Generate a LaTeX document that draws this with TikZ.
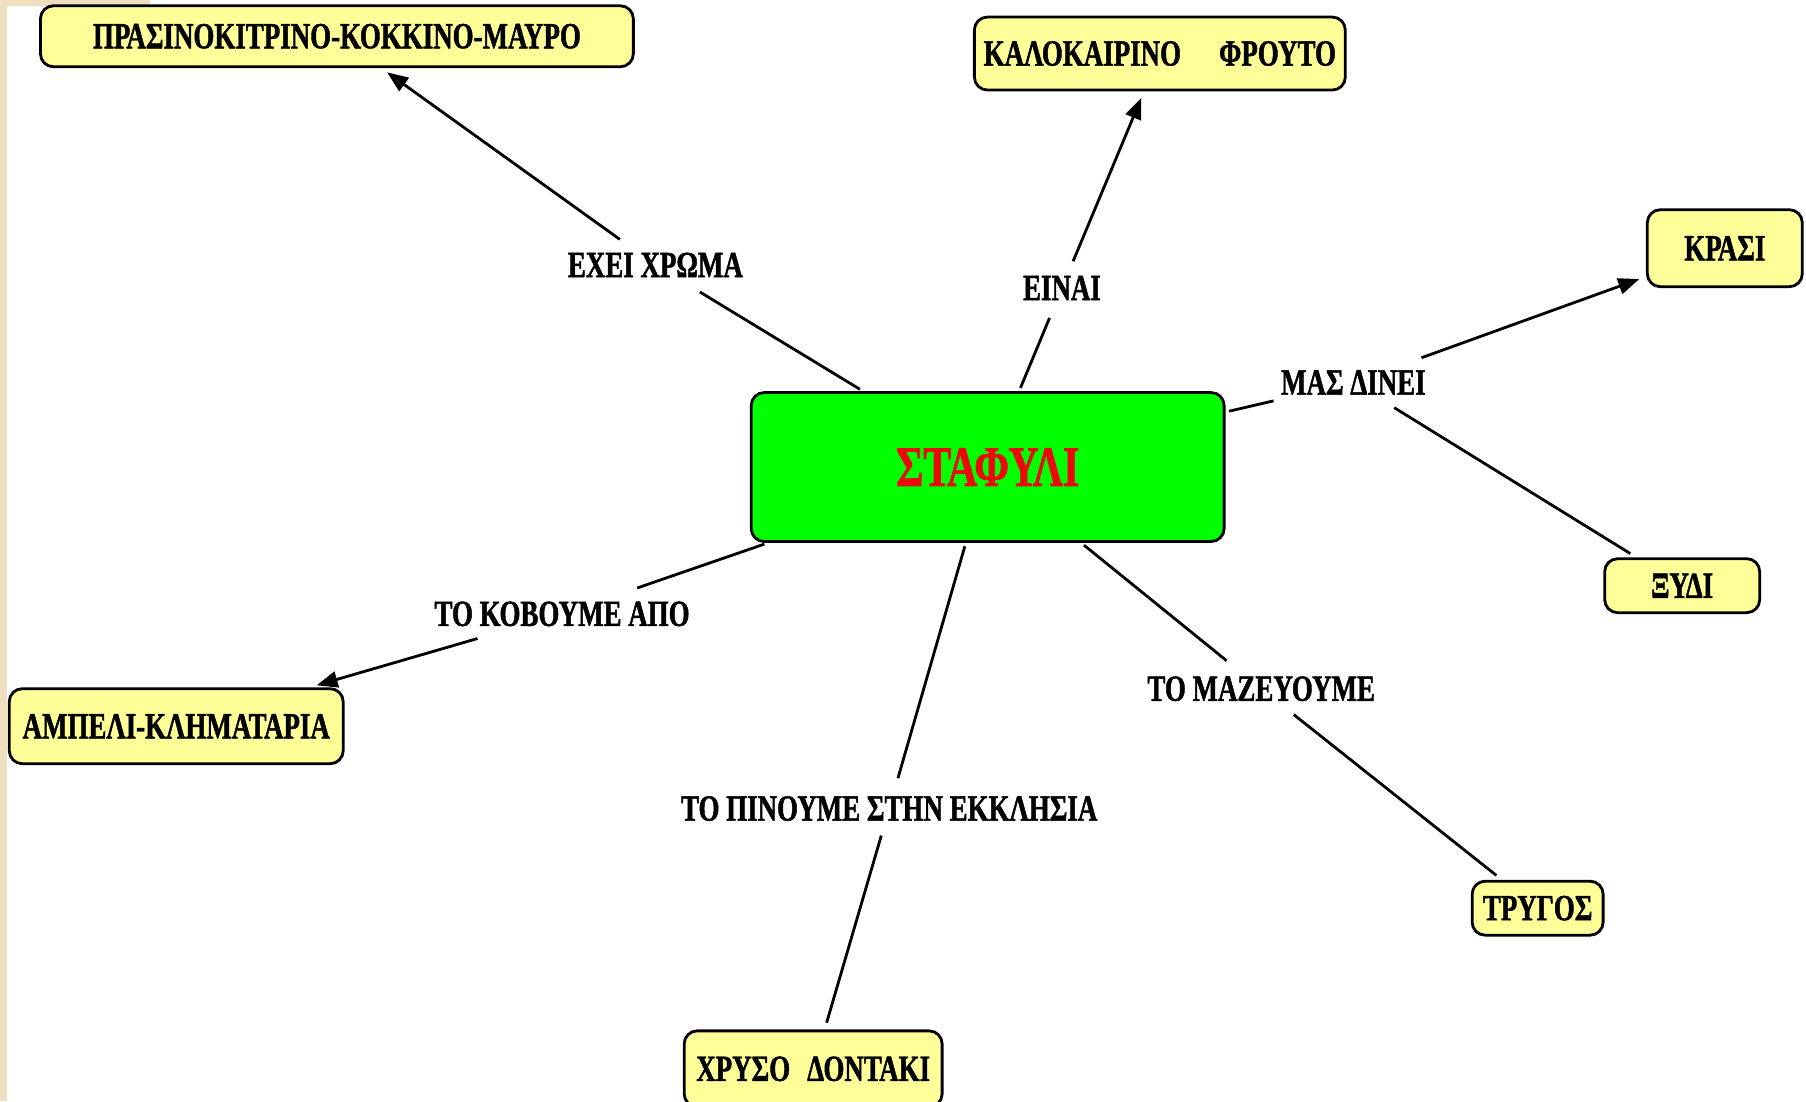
\documentclass[tikz,border=0pt]{standalone}
\usepackage{fontspec}
\setmainfont{Liberation Serif}[FakeStretch=0.73, BoldFeatures={FakeBold=1.2}]
\usetikzlibrary{arrows.meta}
\definecolor{boxyellow}{RGB}{255,255,153}
\definecolor{rootgreen}{RGB}{0,255,0}
\definecolor{rootred}{RGB}{235,10,10}
\definecolor{paperbeige}{RGB}{238,224,190}
\tikzset{
	ideabox/.style={draw=black, line width=0.8pt, fill=boxyellow, rounded corners=0.13cm, inner sep=0pt,
		font=\fontsize{10.5}{12}\bfseries\selectfont},
	rootbox/.style={ideabox, fill=rootgreen, text=rootred, font=\fontsize{16.3}{19}\bfseries\selectfont},
	linklabel/.style={inner xsep=0pt, inner ysep=3pt, font=\fontsize{10.5}{12}\bfseries\selectfont},
	link/.style={line width=0.8pt, shorten <=1pt, shorten >=2pt},
	linkarrow/.style={link, -{Triangle[length=6pt,width=4.6pt]}}
}

\begin{document}
\begin{tikzpicture}[x=0.011518cm, y=-0.011518cm]
			%%%%% START %%%%%
			\useasboundingbox (0, 0) rectangle (1568, 956);
			\clip (0, 0) rectangle (1568, 956);
			\fill[white] (0, 0) rectangle (1568, 956);
			\fill[paperbeige] (0, 0) rectangle (6, 956);
			\fill[paperbeige] (0, 0) rectangle (130, 5);
			
			% the grape in the middle
			\node[rootbox, minimum width=4.73cm, minimum height=1.49cm] (stafili) at (857.5, 405.5) {ΣΤΑΦΥΛΙ};
			
			% the yellow boxes round it
			\node[ideabox, minimum width=5.93cm, minimum height=0.61cm] (colour) at (292.5, 31.5) {ΠΡΑΣΙΝΟΚΙΤΡΙΝΟ-ΚΟΚΚΙΝΟ-ΜΑΥΡΟ};
			\node[ideabox, minimum width=3.71cm, minimum height=0.73cm] (fruit) at (1007, 46.5) {ΚΑΛΟΚΑΙΡΙΝΟ\hspace{0.38cm}ΦΡΟΥΤΟ};
			\node[ideabox, minimum width=1.55cm, minimum height=0.77cm] (wine) at (1497.5, 215.5) {ΚΡΑΣΙ};
			\node[ideabox, minimum width=1.55cm, minimum height=0.54cm] (vinegar) at (1460.5, 508.5) {ΞΥΔΙ};
			\node[ideabox, minimum width=1.31cm, minimum height=0.54cm] (harvest) at (1335, 788.5) {ΤΡΥΓΟΣ};
			\node[ideabox, minimum width=2.58cm, minimum height=0.76cm] (tooth) at (706, 928) {ΧΡΥΣΟ\hspace{0.17cm}ΔΟΝΤΑΚΙ};
			\node[ideabox, minimum width=3.34cm, minimum height=0.75cm] (vine) at (153, 630.5) {ΑΜΠΕΛΙ-ΚΛΗΜΑΤΑΡΙΑ};
			
			% the words on the links
			\node[linklabel] (hascolour) at (569, 230) {ΕΧΕΙ ΧΡΩΜΑ};
			\node[linklabel] (isa) at (922, 250) {ΕΙΝΑΙ};
			\node[linklabel] (gives) at (1175, 332) {ΜΑΣ ΔΙΝΕΙ};
			\node[linklabel] (cutfrom) at (488, 533) {ΤΟ ΚΟΒΟΥΜΕ ΑΠΟ};
			\node[linklabel] (drink) at (772, 702) {ΤΟ ΠΙΝΟΥΜΕ ΣΤΗΝ ΕΚΚΛΗΣΙΑ};
			\node[linklabel] (gather) at (1095, 598) {ΤΟ ΜΑΖΕΥΟΥΜΕ};
			
			\draw[link] (stafili) -- (hascolour);
			\draw[linkarrow] (hascolour) -- (colour);
			\draw[link] (stafili) -- (isa);
			\draw[linkarrow] (isa) -- (fruit);
			\draw[link] (stafili) -- (gives);
			\draw[linkarrow] (gives) -- (wine);
			\draw[link] (gives) -- (vinegar);
			\draw[link] (stafili) -- (cutfrom);
			\draw[linkarrow] (cutfrom) -- (vine);
			\draw[link] (stafili) -- (drink);
			\draw[link] (drink) -- (tooth);
			\draw[link] (stafili) -- (gather);
			\draw[link] (gather) -- (harvest);
			%%%%% END %%%%%
\end{tikzpicture}
\end{document}
